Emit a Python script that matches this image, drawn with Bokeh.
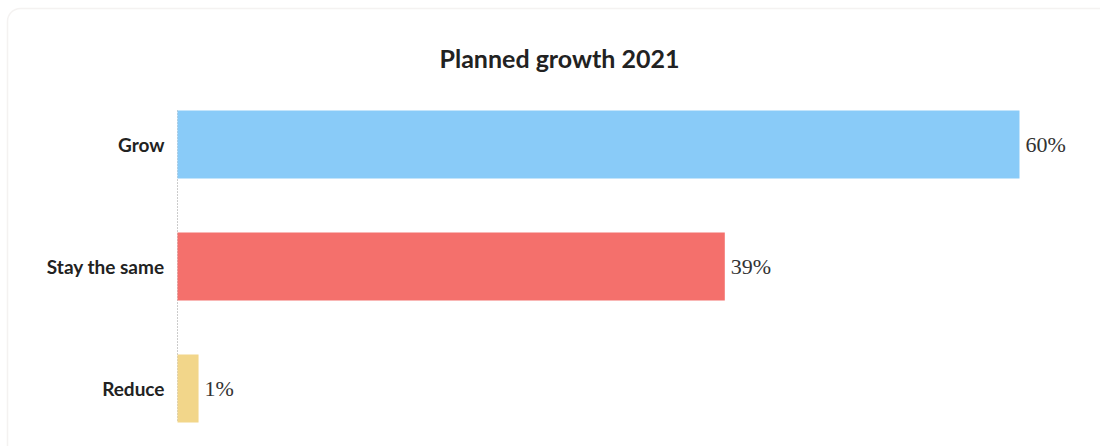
from bokeh.plotting import figure
from bokeh.models import Range1d, BoxAnnotation, Label
from bokeh.core.properties import value
from bokeh.embed import file_html
from bokeh.resources import INLINE

categories = ["Grow", "Stay the same", "Reduce"]
values = [60, 39, 1.5]
labels = ["60%", "39%", "1%"]
colors = ["#89CBF8", "#F4706C", "#F2D68A"]
title = "Planned growth 2021"

# category positions, first category on top
ypos = [len(categories) - 1 - i for i in range(len(categories))]

p = figure(width=1100, height=446, output_backend="svg", toolbar_location=None,
           x_range=Range1d(-12.613, 65.772), y_range=Range1d(-0.4754, 3.1803),
           x_axis_location=None, y_axis_location=None,
           min_border_left=0, min_border_right=0, min_border_top=0, min_border_bottom=0)

p.outline_line_color = None
p.xgrid.visible = False
p.ygrid.visible = False

bar_h = 0.557
p.segment(x0=[0], y0=[max(ypos) + bar_h / 2], x1=[0], y1=[min(ypos) - bar_h / 2],
          line_color="#999999", line_dash="1 2", line_width=1)

p.hbar(y=ypos, right=values, left=0, height=bar_h, color=colors, line_color=None)

p.text(x=values, y=ypos, text=labels, x_offset=6, text_baseline="middle",
       text_font=value("Liberation Serif"), text_font_size="22px", text_color="#333333")

p.text(x=[0] * len(categories), y=ypos, text=categories, x_offset=-13, text_align="right",
       text_baseline="middle", text_font=value("Lato"), text_font_style="bold",
       text_font_size="19px", text_color="#222222")

card = BoxAnnotation(left=7, right=1300, top=8, bottom=800,
                     left_units="canvas", right_units="canvas", top_units="canvas", bottom_units="canvas",
                     fill_color=None, line_color="#D9D5D0", line_width=1.5, border_radius=13)
p.add_layout(card)

p.add_layout(Label(x=559, y=57, x_units="canvas", y_units="canvas", text=title,
                   text_align="center", text_baseline="middle", text_font="Lato",
                   text_font_style="bold", text_font_size="25px", text_color="#222222"))

open("out.html", "w").write(file_html(p, INLINE))
